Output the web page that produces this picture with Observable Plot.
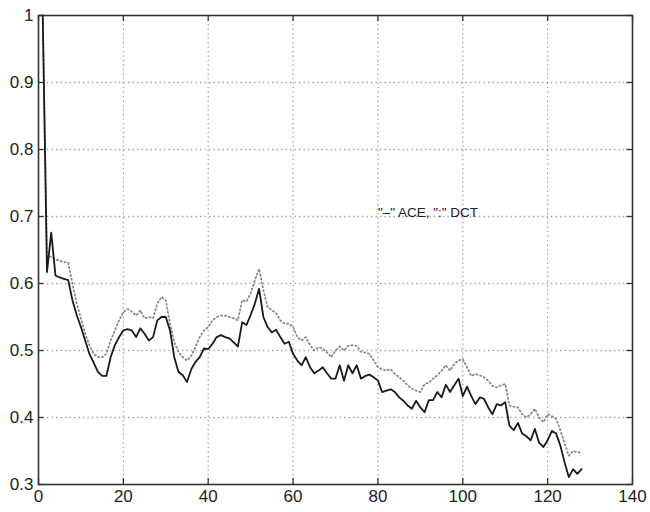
<!DOCTYPE html>
<html>
<head>
<meta charset="utf-8">
<script src="https://cdn.jsdelivr.net/npm/d3@7"></script>
<script src="https://cdn.jsdelivr.net/npm/@observablehq/plot@0.6"></script>
<style>
  html, body { margin: 0; padding: 0; background: #fff; }
  #chart { width: 650px; height: 512px; }
</style>
</head>
<body>
<div id="chart"></div>
<script>
const ace = [1.0,0.617,0.676,0.612,0.609,0.607,0.605,0.575,0.553,0.535,
0.515,0.495,0.482,0.468,0.462,0.462,0.49,0.508,0.52,0.53,
0.532,0.53,0.52,0.533,0.525,0.515,0.52,0.545,0.55,0.55,
0.53,0.49,0.468,0.463,0.453,0.472,0.483,0.49,0.503,0.502,
0.51,0.52,0.523,0.52,0.518,0.512,0.506,0.542,0.538,0.553,
0.57,0.592,0.55,0.535,0.527,0.531,0.52,0.51,0.513,0.495,
0.485,0.478,0.49,0.475,0.466,0.47,0.475,0.466,0.458,0.458,
0.478,0.455,0.478,0.466,0.478,0.458,0.462,0.464,0.46,0.455,
0.438,0.44,0.442,0.438,0.43,0.425,0.418,0.413,0.425,0.415,
0.408,0.426,0.426,0.438,0.43,0.449,0.438,0.448,0.458,0.432,
0.446,0.432,0.42,0.43,0.428,0.415,0.405,0.42,0.418,0.423,
0.388,0.381,0.392,0.376,0.372,0.366,0.383,0.362,0.356,0.366,
0.38,0.376,0.358,0.333,0.311,0.323,0.316,0.323];

const dct = [1.0,0.64,0.64,0.636,0.634,0.632,0.631,0.6,0.57,0.548,
0.525,0.508,0.495,0.49,0.49,0.495,0.515,0.53,0.545,0.557,
0.562,0.558,0.552,0.56,0.548,0.55,0.548,0.57,0.58,0.575,
0.54,0.512,0.498,0.49,0.485,0.492,0.505,0.52,0.53,0.535,
0.545,0.55,0.552,0.552,0.55,0.548,0.545,0.575,0.573,0.585,
0.605,0.622,0.59,0.565,0.56,0.556,0.545,0.54,0.54,0.535,
0.52,0.515,0.52,0.508,0.5,0.505,0.503,0.497,0.49,0.5,
0.506,0.5,0.507,0.508,0.507,0.498,0.497,0.495,0.485,0.475,
0.472,0.47,0.472,0.465,0.46,0.455,0.448,0.443,0.44,0.438,
0.45,0.452,0.458,0.463,0.47,0.478,0.47,0.48,0.485,0.487,
0.475,0.462,0.465,0.463,0.46,0.455,0.447,0.445,0.448,0.45,
0.418,0.416,0.415,0.405,0.4,0.405,0.413,0.4,0.393,0.405,
0.402,0.398,0.381,0.361,0.343,0.35,0.348,0.348];

const xTicks = [0, 20, 40, 60, 80, 100, 120, 140];
const yTicks = [0.3, 0.4, 0.5, 0.6, 0.7, 0.8, 0.9, 1];
const annotation = "\"\u2013\" ACE, \":\" DCT";

const aceData = ace.map((v, i) => ({x: i + 1, y: v}));
const dctData = dct.map((v, i) => ({x: i + 1, y: v}));

const fmt = d => String(d);
const gridStyle = {stroke: "#9a9a9a", strokeWidth: 1.3, strokeDasharray: "1.3,3.2"};
const tickStyle = {stroke: "#333", strokeWidth: 1.3};

const chart = Plot.plot({
  width: 650,
  height: 512,
  marginLeft: 38,
  marginRight: 18,
  marginTop: 15,
  marginBottom: 28,
  style: {fontFamily: "'Liberation Sans', Arial, sans-serif", fontSize: "16px", color: "#111", background: "#fff"},
  x: {domain: [0, 140], ticks: xTicks},
  y: {domain: [0.3, 1], ticks: yTicks},
  marks: [
    Plot.ruleX(xTicks.slice(1, -1), {x: d => d, ...gridStyle}),
    Plot.ruleY(yTicks.slice(1, -1), {y: d => d, ...gridStyle}),
    Plot.line(dctData, {x: "x", y: "y", stroke: "#888", strokeWidth: 1.8, strokeDasharray: "1.2,2.8"}),
    Plot.line(aceData, {x: "x", y: "y", stroke: "#1a1a1a", strokeWidth: 1.8}),
    Plot.text([annotation], {x: 80, y: 0.706, text: d => d, textAnchor: "start", fontSize: 13.5, fill: "#222"}),
    Plot.frame({stroke: "#333", strokeWidth: 1.6}),
    Plot.axisX(xTicks, {anchor: "bottom", tickSize: 0, tickPadding: 5, tickFormat: fmt, fontSize: 17, fill: "#222", label: null}),
    Plot.axisY(yTicks, {anchor: "left", tickSize: 0, tickPadding: 5, tickFormat: fmt, fontSize: 17, fill: "#222", label: null}),
    Plot.ruleX(xTicks, {x: d => d, y1: 0.3, y2: 0.309, ...tickStyle}),
    Plot.ruleX(xTicks, {x: d => d, y1: 0.991, y2: 1, ...tickStyle}),
    Plot.ruleY(yTicks, {y: d => d, x1: 0, x2: 1.3, ...tickStyle}),
    Plot.ruleY(yTicks, {y: d => d, x1: 138.7, x2: 140, ...tickStyle})
  ]
});
document.getElementById("chart").appendChild(chart);
</script>
</body>
</html>
